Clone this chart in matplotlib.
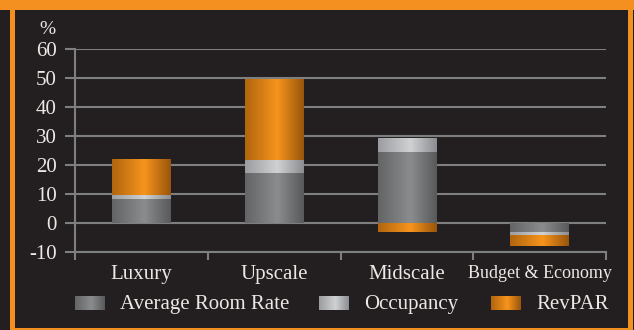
import matplotlib
matplotlib.use('Agg')
import matplotlib.pyplot as plt
from matplotlib.colors import LinearSegmentedColormap
from matplotlib.patches import Rectangle
import numpy as np

BG = '#231f20'
ORANGE = '#f39020'
GRID = '#7f7f80'
TEXT = '#ebe9e6'

plt.rcParams.update({
    'font.family': ['Liberation Serif', 'DejaVu Serif'],
    'font.size': 15,
})

categories = ['Luxury', 'Upscale', 'Midscale', 'Budget & Economy']
series_names = ['Average Room Rate', 'Occupancy', 'RevPAR']
avg_room_rate = [8.4, 17.3, 24.6, -3.2]
occupancy = [1.5, 4.5, 4.5, -1.1]
revpar = [12.3, 27.6, -2.9, -3.5]
y_ticks = [-10, 0, 10, 20, 30, 40, 50, 60]

# horizontal gradients: dark edge, bright highlight, dark edge
grads = [
    LinearSegmentedColormap.from_list('arr', [(0, '#636466'), (0.55, '#8a8c8e'), (1, '#58595b')]),
    LinearSegmentedColormap.from_list('occ', [(0, '#9c9da0'), (0.55, '#d0d1d3'), (1, '#8c8d90')]),
    LinearSegmentedColormap.from_list('rev', [(0, '#b0650e'), (0.55, '#f7941d'), (1, '#98550b')]),
]
ramp = np.linspace(0, 1, 256).reshape(1, -1)

fig = plt.figure(figsize=(6.34, 3.30), dpi=100, facecolor=BG)

# orange frame
W, H = 634, 330
for (x0, y0, w, h) in [(0, 320, 634, 10), (10, 0, 5, 330), (628, 0, 5, 330), (10, 0, 623, 2)]:
    fig.patches.append(Rectangle((x0 / W, y0 / H), w / W, h / H, transform=fig.transFigure,
                                 facecolor=ORANGE, edgecolor='none', zorder=0))

ax = fig.add_axes([75 / W, 77.7 / H, 531 / W, 203.3 / H])
ax.set_facecolor('none')

width = 0.44
xs = np.arange(len(categories))
pos_base = np.zeros(len(categories))
neg_base = np.zeros(len(categories))
for vals, cmap in zip([avg_room_rate, occupancy, revpar], grads):
    for i, v in enumerate(vals):
        if v >= 0:
            b = pos_base[i]
            pos_base[i] += v
        else:
            b = neg_base[i]
            neg_base[i] += v
        ax.imshow(ramp, cmap=cmap, aspect='auto', interpolation='bilinear',
                  extent=[xs[i] - width / 2, xs[i] + width / 2, b, b + v], zorder=3)

ax.set_xlim(-0.5, len(categories) - 0.5)
ax.set_ylim(-10, 60)
ax.set_yticks(y_ticks)
ax.set_yticklabels([str(t) for t in y_ticks])
ax.yaxis.grid(True, color=GRID, linewidth=1.5)
ax.set_axisbelow(True)

ax.set_xticks(xs)
ax.set_xticklabels(categories)
ax.set_xticks(np.arange(len(categories) + 1) - 0.5, minor=True)
ax.tick_params(axis='x', which='major', length=0, pad=9, colors=TEXT, labelsize=15)
ax.tick_params(axis='x', which='minor', length=6, width=1.5, color=GRID, direction='out')
ax.tick_params(axis='y', length=7, width=1.5, color=GRID, direction='out', colors=TEXT,
               labelsize=15, pad=6)
ax.tick_params(axis='y', color=GRID)
for lab in ax.get_xticklabels():
    if lab.get_text().startswith('Budget'):
        lab.set_fontsize(13)

for s in ['top', 'right']:
    ax.spines[s].set_visible(False)
for s in ['left', 'bottom']:
    ax.spines[s].set_color(GRID)
    ax.spines[s].set_linewidth(1.5)

fig.text(47 / W, 1 - 29 / H, '%', color=TEXT, fontsize=14, ha='center', va='center')

# legend with gradient swatches
sw_x = [75, 319, 491]
for name, cmap, x0 in zip(series_names, grads, sw_x):
    sax = fig.add_axes([x0 / W, (330 - 310) / H, 30 / W, 14 / H])
    sax.imshow(ramp, cmap=cmap, aspect='auto', interpolation='bilinear')
    sax.axis('off')
    fig.text((x0 + 45) / W, (330 - 309) / H, name, color=TEXT, fontsize=15,
             ha='left', va='baseline')

fig.savefig('out.png', dpi=100, facecolor=BG)
